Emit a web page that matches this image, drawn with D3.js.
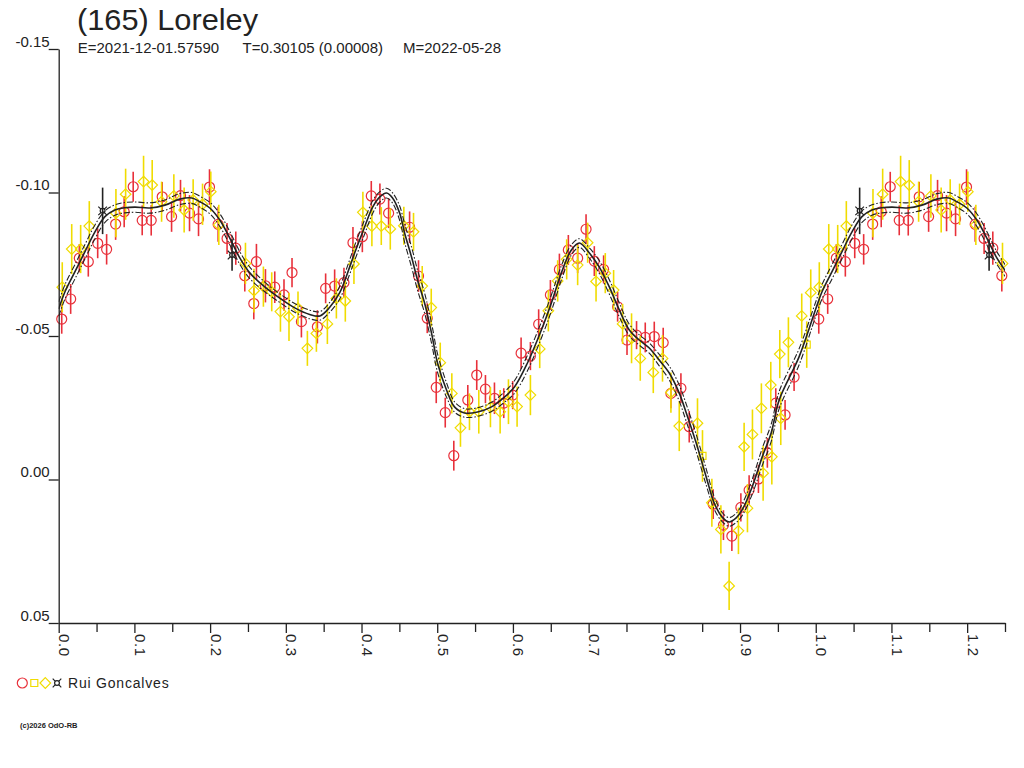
<!DOCTYPE html>
<html>
<head>
<meta charset="utf-8">
<script src="https://cdn.jsdelivr.net/npm/d3@7"></script>
<style>
  body { margin: 0; background: #fff; }
  svg { display: block; font-family: "Liberation Sans", Arial, sans-serif; }
  .axis text { font-size: 15px; fill: #222; }
  .axis path, .axis line { stroke: #222; stroke-width: 1.3; }
</style>
</head>
<body>
<svg id="chart" width="1024" height="768"></svg>
<script>
// phase, magnitude, error
const redCircles = [
  [0.0040,-0.0559,0.0051],[0.0158,-0.0629,0.0052],[0.0272,-0.0771,0.0049],[0.0391,-0.0759,0.0052],
  [0.0515,-0.0823,0.0052],[0.0633,-0.0802,0.0053],[0.0752,-0.0890,0.0055],[0.0865,-0.0933,0.0054],
  [0.0984,-0.1020,0.0052],[0.1103,-0.0903,0.0052],[0.1222,-0.0903,0.0053],[0.1367,-0.0985,0.0052],
  [0.1491,-0.0916,0.0053],[0.1609,-0.0989,0.0055],[0.1728,-0.0928,0.0063],[0.1847,-0.0908,0.0060],
  [0.1992,-0.1019,0.0062],[0.2106,-0.0889,0.0061],[0.2224,-0.0840,0.0054],[0.2339,-0.0806,0.0058],
  [0.2458,-0.0710,0.0055],[0.2577,-0.0613,0.0055],[0.2612,-0.0759,0.0062],[0.2731,-0.0675,0.0058],
  [0.2854,-0.0670,0.0055],[0.2976,-0.0643,0.0055],[0.3082,-0.0721,0.0051],[0.3206,-0.0550,0.0055],
  [0.3417,-0.0532,0.0058],[0.3526,-0.0666,0.0052],[0.3645,-0.0674,0.0058],[0.3768,-0.0686,0.0052],
  [0.3887,-0.0825,0.0055],[0.4011,-0.0846,0.0054],[0.4129,-0.0988,0.0052],[0.4243,-0.0977,0.0054],
  [0.4358,-0.0928,0.0052],[0.4635,-0.0879,0.0055],[0.4753,-0.0709,0.0055],[0.4868,-0.0562,0.0052],
  [0.4987,-0.0321,0.0055],[0.5106,-0.0233,0.0052],[0.5219,-0.0083,0.0052],[0.5404,-0.0277,0.0052],
  [0.5522,-0.0364,0.0052],[0.5637,-0.0315,0.0049],[0.5756,-0.0283,0.0055],[0.5879,-0.0266,0.0052],
  [0.5997,-0.0294,0.0049],[0.6108,-0.0440,0.0055],[0.6231,-0.0430,0.0049],[0.6340,-0.0541,0.0052],
  [0.6495,-0.0643,0.0052],[0.6614,-0.0732,0.0055],[0.6732,-0.0800,0.0052],[0.6855,-0.0771,0.0052],
  [0.6966,-0.0872,0.0052],[0.7075,-0.0761,0.0052],[0.7198,-0.0732,0.0049],[0.7383,-0.0602,0.0052],
  [0.7507,-0.0486,0.0052],[0.7633,-0.0503,0.0049],[0.7748,-0.0495,0.0052],[0.7867,-0.0498,0.0052],
  [0.7985,-0.0477,0.0052],[0.8087,-0.0300,0.0052],[0.8219,-0.0318,0.0052],[0.8329,-0.0184,0.0055],
  [0.8645,0.0086,0.0052],[0.8781,0.0159,0.0052],[0.8892,0.0197,0.0052],[0.9011,0.0097,0.0049],
  [0.9120,0.0037,0.0052],[0.9243,-0.0002,0.0049],[0.9361,-0.0093,0.0052],[0.9472,-0.0266,0.0052],
  [0.9595,-0.0225,0.0052],[0.9714,-0.0357,0.0049]
];

const yellowSquares = [
  [0.8504,-0.0082,0.0090],[0.9881,-0.0470,0.0081]
];

const yellowDiamonds = [
  [0.0047,-0.0670,0.0087],[0.0172,-0.0803,0.0087],[0.0290,-0.0803,0.0084],[0.0404,-0.0883,0.0087],
  [0.0756,-0.0928,0.0084],[0.0884,-0.0994,0.0089],[0.1121,-0.1038,0.0090],[0.1235,-0.1026,0.0087],
  [0.1359,-0.0968,0.0070],[0.1521,-0.0988,0.0076],[0.1657,-0.0939,0.0078],[0.1776,-0.0974,0.0072],
  [0.1900,-0.0959,0.0072],[0.2009,-0.1003,0.0070],[0.2115,-0.0887,0.0070],[0.2467,-0.0753,0.0072],
  [0.2580,-0.0658,0.0076],[0.2704,-0.0672,0.0070],[0.2814,-0.0654,0.0068],[0.2929,-0.0585,0.0070],
  [0.3042,-0.0567,0.0084],[0.3161,-0.0597,0.0058],[0.3285,-0.0457,0.0061],[0.3404,-0.0509,0.0064],
  [0.3549,-0.0542,0.0070],[0.3668,-0.0631,0.0070],[0.3786,-0.0622,0.0072],[0.3900,-0.0751,0.0070],
  [0.4018,-0.0931,0.0072],[0.4137,-0.0883,0.0070],[0.4261,-0.0883,0.0066],[0.4380,-0.0873,0.0072],
  [0.4559,-0.0884,0.0066],[0.4687,-0.0863,0.0066],[0.4802,-0.0674,0.0070],[0.4921,-0.0599,0.0066],
  [0.5040,-0.0407,0.0070],[0.5193,-0.0300,0.0070],[0.5307,-0.0180,0.0066],[0.5426,-0.0236,0.0064],
  [0.5549,-0.0236,0.0076],[0.5703,-0.0252,0.0070],[0.5831,-0.0236,0.0076],[0.5941,-0.0271,0.0078],
  [0.6055,-0.0254,0.0070],[0.6231,-0.0294,0.0070],[0.6354,-0.0455,0.0067],[0.6468,-0.0588,0.0072],
  [0.6591,-0.0692,0.0072],[0.6710,-0.0767,0.0070],[0.6855,-0.0747,0.0070],[0.6987,-0.0825,0.0070],
  [0.7098,-0.0690,0.0070],[0.7220,-0.0719,0.0070],[0.7330,-0.0660,0.0070],[0.7449,-0.0542,0.0070],
  [0.7567,-0.0492,0.0087],[0.7682,-0.0422,0.0078],[0.7854,-0.0373,0.0072],[0.7976,-0.0422,0.0081],
  [0.8087,-0.0303,0.0070],[0.8197,-0.0186,0.0087],[0.8438,-0.0196,0.0087],[0.8628,0.0081,0.0084],
  [0.8747,0.0174,0.0084],[0.8856,0.0371,0.0084],[0.8979,0.0179,0.0081],[0.9054,-0.0114,0.0084],
  [0.9098,0.0100,0.0084],[0.9164,-0.0157,0.0087],[0.9282,-0.0248,0.0087],[0.9305,-0.0022,0.0096],
  [0.9406,-0.0329,0.0081],[0.9420,-0.0079,0.0096],[0.9525,-0.0437,0.0084],[0.9538,-0.0213,0.0093],
  [0.9639,-0.0478,0.0087],[0.9815,-0.0570,0.0078],[0.9934,-0.0651,0.0081]
];

const blackMarks = [
  [0.0580,-0.0936,0.0081],[0.2290,-0.0782,0.0055]
];

// fitted curve: phase, magnitude, band half-width
const fitCurve = [
  [0.0000,-0.0594,0.0025],[0.0083,-0.0654,0.0025],[0.0215,-0.0724,0.0025],[0.0347,-0.0794,0.0025],
  [0.0479,-0.0863,0.0024],[0.0611,-0.0916,0.0020],[0.0743,-0.0939,0.0018],[0.0874,-0.0947,0.0018],
  [0.1007,-0.0949,0.0018],[0.1204,-0.0946,0.0018],[0.1402,-0.0956,0.0018],[0.1600,-0.0977,0.0019],
  [0.1759,-0.0981,0.0019],[0.1864,-0.0968,0.0019],[0.1996,-0.0946,0.0020],[0.2128,-0.0904,0.0022],
  [0.2260,-0.0841,0.0023],[0.2392,-0.0772,0.0022],[0.2524,-0.0720,0.0020],[0.2722,-0.0671,0.0017],
  [0.2920,-0.0632,0.0015],[0.3118,-0.0598,0.0015],[0.3316,-0.0575,0.0015],[0.3450,-0.0570,0.0015],
  [0.3580,-0.0600,0.0017],[0.3710,-0.0650,0.0022],[0.3843,-0.0740,0.0025],[0.3909,-0.0789,0.0026],
  [0.4041,-0.0880,0.0025],[0.4147,-0.0949,0.0022],[0.4239,-0.0984,0.0018],[0.4331,-0.0998,0.0017],
  [0.4410,-0.0981,0.0018],[0.4503,-0.0929,0.0025],[0.4569,-0.0859,0.0032],[0.4661,-0.0775,0.0035],
  [0.4740,-0.0695,0.0035],[0.4833,-0.0615,0.0035],[0.4925,-0.0510,0.0035],[0.5004,-0.0406,0.0032],
  [0.5123,-0.0312,0.0025],[0.5228,-0.0253,0.0018],[0.5360,-0.0232,0.0015],[0.5532,-0.0235,0.0015],
  [0.5717,-0.0253,0.0016],[0.5888,-0.0287,0.0018],[0.6020,-0.0322,0.0022],[0.6192,-0.0406,0.0027],
  [0.6376,-0.0521,0.0028],[0.6508,-0.0615,0.0028],[0.6640,-0.0720,0.0025],[0.6772,-0.0800,0.0018],
  [0.6878,-0.0824,0.0015],[0.7010,-0.0789,0.0018],[0.7141,-0.0740,0.0022],[0.7273,-0.0671,0.0025],
  [0.7405,-0.0591,0.0024],[0.7537,-0.0521,0.0020],[0.7669,-0.0486,0.0018],[0.7801,-0.0458,0.0018],
  [0.7933,-0.0416,0.0020],[0.8065,-0.0371,0.0024],[0.8197,-0.0301,0.0028],[0.8290,-0.0232,0.0030],
  [0.8421,-0.0127,0.0030],[0.8553,-0.0009,0.0028],[0.8659,0.0082,0.0022],[0.8764,0.0131,0.0016],
  [0.8857,0.0148,0.0015],[0.8949,0.0134,0.0016],[0.9028,0.0106,0.0020],[0.9160,0.0026,0.0026],
  [0.9292,-0.0078,0.0030],[0.9411,-0.0162,0.0030],[0.9517,-0.0277,0.0030],[0.9781,-0.0428,0.0028],
  [1.0000,-0.0594,0.0025]
];

const xTicks = [0.0,0.1,0.2,0.3,0.4,0.5,0.6,0.7,0.8,0.9,1.0,1.1,1.2];
const xMinorTicks = [0.05,0.15,0.25,0.35,0.45,0.55,0.65,0.75,0.85,0.95,1.05,1.15,1.25];
const yTicks = [-0.15,-0.10,-0.05,0.00,0.05];

const title = "(165) Loreley";
const subtitleParts = ["E=2021-12-01.57590", "T=0.30105 (0.00008)", "M=2022-05-28"];
const observer = "Rui Goncalves";
const credit = "(c)2026 OdO-RB";

const RED = "#e8303a";
const YELLOW = "#f0dc00";
const INK = "#222";

const SHAPES = {
  circle: "M5,0A5,5 0 1 1 -5,0A5,5 0 1 1 5,0Z",
  square: "M-3.5,-3.5H3.5V3.5H-3.5Z",
  diamond: "M0,-5.3L5.3,0L0,5.3L-5.3,0Z",
  currency: "M2.4,0A2.4,2.4 0 1 1 -2.4,0A2.4,2.4 0 1 1 2.4,0Z" +
    "M-4.3,-4.3L-1.7,-1.7M4.3,-4.3L1.7,-1.7M-4.3,4.3L-1.7,1.7M4.3,4.3L1.7,1.7",
};

class LightCurvePlot {
  constructor(parent) {
    this.parent = parent;
    this.box = { left: 58.7, right: 1005, top: 49, bottom: 623 };
    this.maxPhase = 1.25;
    this.series = [
      { rows: redCircles, color: RED, shape: "circle" },
      { rows: yellowSquares, color: YELLOW, shape: "square" },
      { rows: yellowDiamonds, color: YELLOW, shape: "diamond" },
      { rows: blackMarks, color: INK, shape: "currency" },
    ];
    this.initVis();
  }

  initVis() {
    let vis = this;
    vis.svg = d3.select(vis.parent);

    vis.x_scale = d3.scaleLinear()
      .domain([0, vis.maxPhase])
      .range([vis.box.left, vis.box.right]);
    vis.y_scale = d3.scaleLinear()
      .domain([-0.15, 0.05])
      .range([vis.box.top, vis.box.bottom]);

    vis.svg.append("defs").append("clipPath").attr("id", "plot-clip")
      .append("rect")
      .attr("x", vis.box.left)
      .attr("y", vis.box.top)
      .attr("width", vis.box.right - vis.box.left)
      .attr("height", vis.box.bottom - vis.box.top);

    vis.pointsG = vis.svg.append("g").attr("class", "points");
    vis.fitG = vis.svg.append("g").attr("clip-path", "url(#plot-clip)");
    vis.xAxisG = vis.svg.append("g").attr("class", "axis x-axis")
      .attr("transform", `translate(0, ${vis.box.bottom})`);
    vis.xMinorG = vis.svg.append("g").attr("class", "axis x-minor")
      .attr("transform", `translate(0, ${vis.box.bottom})`);
    vis.yAxisG = vis.svg.append("g").attr("class", "axis y-axis")
      .attr("transform", `translate(${vis.box.left}, 0)`);

    vis.renderVis();
  }

  // repeat the first quarter of the cycle after phase 1
  wrapPhase(rows) {
    let vis = this;
    const extra = rows
      .filter((d) => d[0] + 1 <= vis.maxPhase)
      .map((d) => [d[0] + 1, d[1], d[2]]);
    return rows.concat(extra);
  }

  renderVis() {
    let vis = this;
    const x = vis.x_scale;
    const y = vis.y_scale;

    // points + error bars
    vis.series.forEach((s) => {
      const g = vis.pointsG.append("g");
      const rows = vis.wrapPhase(s.rows);
      g.selectAll(".err")
        .data(rows)
        .join("line")
        .attr("class", "err")
        .attr("x1", (d) => x(d[0]))
        .attr("x2", (d) => x(d[0]))
        .attr("y1", (d) => y(d[1] - d[2]))
        .attr("y2", (d) => y(d[1] + d[2]))
        .attr("stroke", s.color)
        .attr("stroke-width", 1.6);
      g.selectAll(".mark")
        .data(rows)
        .join("path")
        .attr("class", "mark")
        .attr("d", SHAPES[s.shape])
        .attr("transform", (d) => `translate(${x(d[0])},${y(d[1])})`)
        .attr("fill", "none")
        .attr("stroke", s.color)
        .attr("stroke-width", 1.2);
    });

    // fitted curve and its band
    const fit = fitCurve.concat(
      fitCurve
        .filter((d) => d[0] > 0 && d[0] <= 0.26)
        .map((d) => [d[0] + 1, d[1], d[2]])
    );
    const line = (acc) => d3.line()
      .x((d) => x(d[0]))
      .y((d) => y(acc(d)))
      .curve(d3.curveCatmullRom.alpha(0.5));

    vis.fitG.append("path")
      .datum(fit)
      .attr("d", line((d) => d[1] - d[2]))
      .attr("fill", "none")
      .attr("stroke", INK)
      .attr("stroke-width", 1.1)
      .attr("stroke-dasharray", "6,2,1.5,2");
    vis.fitG.append("path")
      .datum(fit)
      .attr("d", line((d) => d[1] + d[2]))
      .attr("fill", "none")
      .attr("stroke", INK)
      .attr("stroke-width", 1.1)
      .attr("stroke-dasharray", "6,2,1.5,2");
    vis.fitG.append("path")
      .datum(fit)
      .attr("d", line((d) => d[1]))
      .attr("fill", "none")
      .attr("stroke", INK)
      .attr("stroke-width", 1.6);

    // axes
    vis.xAxisG.call(
      d3.axisBottom(x).tickValues(xTicks).tickSize(10).tickSizeOuter(0)
        .tickFormat((d) => d.toFixed(1))
    );
    vis.xAxisG.selectAll(".tick text")
      .attr("transform", "rotate(90)")
      .attr("x", 11)
      .attr("y", 0)
      .attr("dy", "0")
      .style("text-anchor", "start")
      .style("letter-spacing", "0.6px");

    vis.xMinorG.call(
      d3.axisBottom(x).tickValues(xMinorTicks).tickSize(9).tickSizeOuter(0).tickFormat("")
    );
    vis.xMinorG.select(".domain").remove();

    vis.yAxisG.call(
      d3.axisLeft(y).tickValues(yTicks).tickSize(10).tickSizeOuter(0)
        .tickFormat((d) => d.toFixed(2))
    );
    vis.yAxisG.selectAll(".tick text")
      .attr("x", -9)
      .attr("dy", "-0.2em")
      .style("text-anchor", "end");

    // header
    vis.svg.append("text")
      .attr("x", 77)
      .attr("y", 30)
      .attr("font-size", 30)
      .attr("textLength", 181)
      .attr("lengthAdjust", "spacingAndGlyphs")
      .attr("fill", INK)
      .text(title);
    const subX = [77.7, 242.5, 403];
    vis.svg.append("g")
      .selectAll("text")
      .data(subtitleParts)
      .join("text")
      .attr("x", (d, i) => subX[i])
      .attr("y", 53)
      .attr("font-size", 15)
      .attr("fill", INK)
      .text((d) => d);

    // legend
    const legendX = [22.3, 34.3, 45.3, 57];
    const legend = vis.svg.append("g").attr("class", "legend");
    legend.selectAll("path")
      .data(vis.series)
      .join("path")
      .attr("d", (s) => SHAPES[s.shape])
      .attr("transform", (s, i) => `translate(${legendX[i]},683)`)
      .attr("fill", "none")
      .attr("stroke", (s) => s.color)
      .attr("stroke-width", 1.2);
    legend.append("text")
      .attr("x", 68)
      .attr("y", 687.5)
      .attr("font-size", 14)
      .attr("fill", INK)
      .style("letter-spacing", "0.8px")
      .text(observer);

    vis.svg.append("text")
      .attr("x", 20)
      .attr("y", 728)
      .attr("font-size", 7.5)
      .attr("font-weight", "bold")
      .attr("fill", INK)
      .text(credit);
  }
}

new LightCurvePlot(document.getElementById("chart"));
</script>
</body>
</html>
